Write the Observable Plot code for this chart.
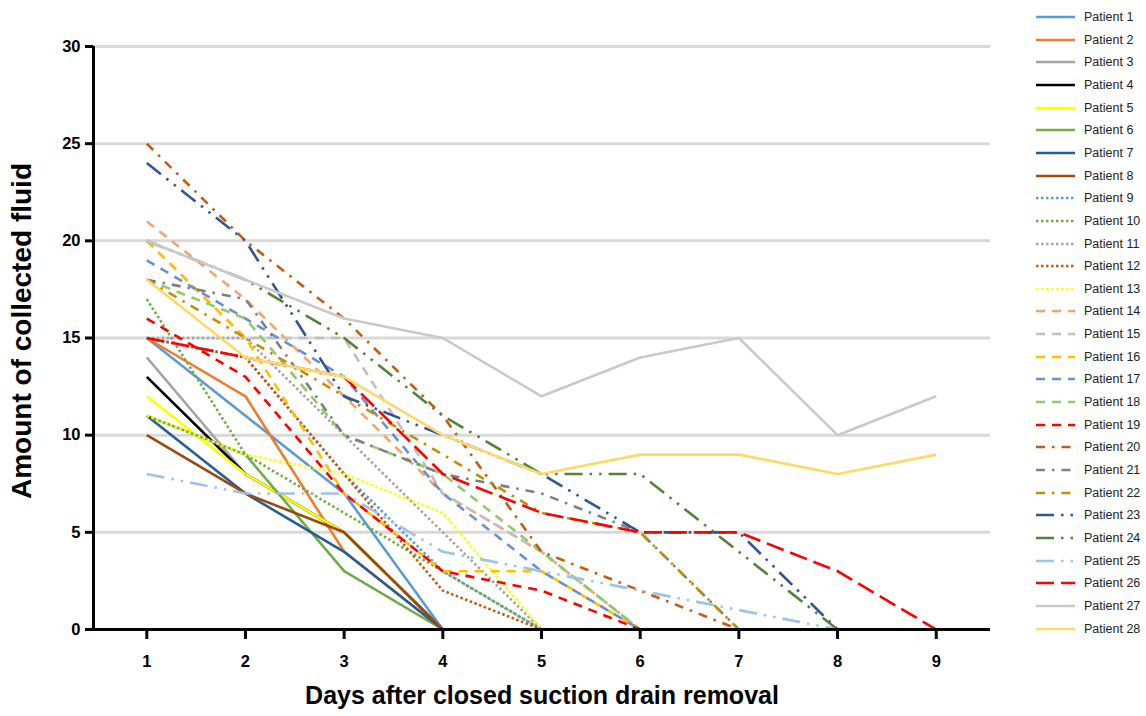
<!DOCTYPE html>
<html><head><meta charset="utf-8">
<script src="https://cdn.jsdelivr.net/npm/d3@7"></script>
<script src="https://cdn.jsdelivr.net/npm/@observablehq/plot@0.6"></script>
<style>
body{margin:0;background:#fff;font-family:"Liberation Sans",Arial,sans-serif;}
#wrap{position:relative;width:1146px;height:716px;overflow:hidden;}
#legend{position:absolute;left:0;top:0;width:1146px;height:716px;pointer-events:none;}
.row{position:absolute;left:1036px;height:16px;display:flex;align-items:center;}
.row span{font-size:12.5px;color:#222;margin-left:8px;white-space:nowrap;}
</style></head><body><div id="wrap"><div id="chart"></div><div id="legend"></div></div>
<script>
const days = [1, 2, 3, 4, 5, 6, 7, 8, 9];
const yTicks = [0, 5, 10, 15, 20, 25, 30];
const gridValues = [5, 10, 15, 20, 25, 30];

const patient1 = [15, 11, 7, 0];
const patient2 = [15, 12, 4, 0];
const patient3 = [14, 8, 5, 0];
const patient4 = [13, 8, 5, 0];
const patient5 = [12, 8, 5, 0];
const patient6 = [11, 9, 3, 0];
const patient7 = [11, 7, 4, 0];
const patient8 = [10, 7, 5, 0];
const patient9 = [15, 14, 8, 3, 0];
const patient10 = [17, 9, 6, 3, 0];
const patient11 = [15, 15, 10, 5, 0];
const patient12 = [15, 14, 8, 2, 0];
const patient13 = [11, 9, 8, 6, 0];
const patient14 = [21, 17, 12, 7, 4, 0];
const patient15 = [20, 15, 15, 7, 4, 0];
const patient16 = [20, 15, 7, 3, 3, 0];
const patient17 = [19, 16, 13, 7, 3, 0];
const patient18 = [18, 16, 10, 8, 4, 0];
const patient19 = [16, 13, 7, 3, 2, 0];
const patient20 = [25, 20, 16, 11, 4, 2, 0];
const patient21 = [18, 17, 10, 8, 7, 5, 0];
const patient22 = [18, 15, 12, 9, 6, 5, 0];
const patient23 = [24, 20, 12, 10, 8, 5, 5, 0];
const patient24 = [20, 18, 15, 11, 8, 8, 4, 0];
const patient25 = [8, 7, 7, 4, 3, 2, 1, 0];
const patient26 = [15, 14, 13, 8, 6, 5, 5, 3, 0];
const patient27 = [20, 18, 16, 15, 12, 14, 15, 10, 12];
const patient28 = [18, 14, 13, 10, 8, 9, 9, 8, 9];

const patients = [patient1, patient2, patient3, patient4, patient5, patient6, patient7, patient8,
  patient9, patient10, patient11, patient12, patient13, patient14, patient15, patient16,
  patient17, patient18, patient19, patient20, patient21, patient22, patient23, patient24,
  patient25, patient26, patient27, patient28];
const names = patients.map((_, i) => `Patient ${i + 1}`);

const colors = ["#5b9bd5", "#ed7d31", "#a5a5a5", "#000000", "#ffff00", "#70ad47", "#255e91", "#9e480e",
  "#5b9bd5", "#70ad47", "#a5a5a5", "#c55a11", "#ffff00", "#f4a46c", "#bfbfbf", "#ffc000",
  "#6a8fd3", "#8fc96a", "#ff0000", "#c55a11", "#7f7f7f", "#bf9000", "#2f5597", "#548235",
  "#9dc3e6", "#ff0000", "#c9c9c9", "#ffd966"];
const lineStyles = ["solid", "solid", "solid", "solid", "solid", "solid", "solid", "solid",
  "dot", "dot", "dot", "dot", "dot", "dash", "dash", "dash", "dash", "dash", "dash",
  "dashDot", "dashDot", "dashDot", "lgDashDotDot", "lgDashDotDot", "lgDashDotDot", "lgDash", "solid", "solid"];
const dashMap = {solid: null, dot: "2.5,2.5", dash: "9,7", dashDot: "9,7,2.5,7",
  lgDashDotDot: "18,7,2.5,7,2.5,7", lgDash: "18,7"};

const x0 = 0.46, x1 = 9.55;
const sw = 2.6;

const lineMarks = patients.map((vals, i) =>
  Plot.line(vals.map((v, j) => ({day: days[j], value: v})), {
    x: "day", y: "value", stroke: colors[i], strokeWidth: sw,
    strokeDasharray: dashMap[lineStyles[i]] ?? undefined, strokeLinejoin: "round", strokeLinecap: "butt"
  }));

const chart = Plot.plot({
  width: 1146, height: 716,
  marginLeft: 93, marginRight: 156, marginTop: 46, marginBottom: 87,
  style: {fontFamily: "Liberation Sans, Arial, sans-serif", background: "white", color: "#000"},
  x: {domain: [x0, x1]},
  y: {domain: [0, 30]},
  marks: [
    Plot.ruleY(gridValues, {stroke: "#d9d9d9", strokeWidth: 3}),
    ...lineMarks,
    Plot.ruleY([0], {stroke: "#000", strokeWidth: 3}),
    Plot.ruleX([x0], {stroke: "#000", strokeWidth: 3}),
    Plot.axisY({ticks: yTicks, tickSize: 8, tickPadding: 5, strokeWidth: 3, fontSize: 16.5, fontWeight: "bold", label: null, tickFormat: d => String(d)}),
    Plot.axisX({ticks: days, tickSize: 10, tickPadding: 16, strokeWidth: 3, fontSize: 16.5, fontWeight: "bold", label: null, tickFormat: d => String(d)}),
    Plot.text(["Amount of collected fluid"], {frameAnchor: "left", rotate: -90, dx: -71, dy: -7, textAnchor: "middle", fontSize: 28, fontWeight: "bold", text: d => d}),
    Plot.text(["Days after closed suction drain removal"], {frameAnchor: "bottom", dy: 74, fontSize: 25, fontWeight: "bold", text: d => d})
  ]
});
document.getElementById("chart").appendChild(chart);

const legend = document.getElementById("legend");
names.forEach((name, i) => {
  const row = document.createElement("div");
  row.className = "row";
  row.style.top = (17 + i * 22.65 - 8) + "px";
  const dash = dashMap[lineStyles[i]];
  row.innerHTML = `<svg width="40" height="16"><line x1="0" y1="8" x2="39" y2="8" stroke="${colors[i]}" stroke-width="${sw}" ${dash ? `stroke-dasharray="${dash}"` : ""}/></svg><span>${name}</span>`;
  legend.appendChild(row);
});
</script></body></html>
